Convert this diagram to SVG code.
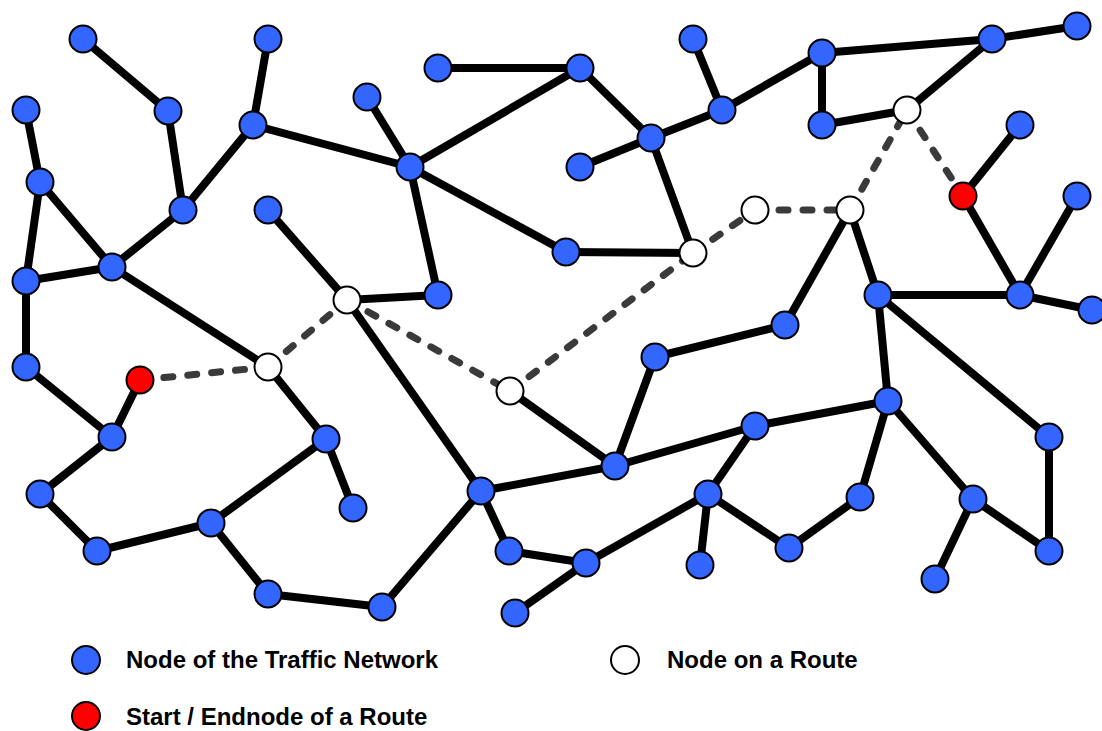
<svg xmlns="http://www.w3.org/2000/svg" width="1102" height="731" viewBox="0 0 1102 731">
  <style>
    .road { stroke: #000; stroke-width: 8; stroke-linecap: round; fill: none; }
    .route { stroke: #3a3a3a; stroke-width: 7; stroke-linecap: round; stroke-dasharray: 9 15; fill: none; }
    .node circle { stroke: #000; stroke-width: 2; }
    .net { fill: #3366ff; }
    .via { fill: #ffffff; }
    .end { fill: #ff0000; }
    .label { font-family: "Liberation Sans", Arial, sans-serif; font-weight: bold; font-size: 24px; fill: #000; }
  </style>

  <!-- road segments and route legs -->
  <g id="connectors">
    <g class="road">
      <line x1="83" y1="39" x2="168" y2="111"/>
      <line x1="168" y1="111" x2="183" y2="210"/>
      <line x1="268" y1="39" x2="253" y2="125"/>
      <line x1="253" y1="125" x2="183" y2="210"/>
      <line x1="253" y1="125" x2="410" y2="167"/>
      <line x1="183" y1="210" x2="112" y2="267"/>
      <line x1="26" y1="110" x2="40" y2="182"/>
      <line x1="40" y1="182" x2="26" y2="281"/>
      <line x1="40" y1="182" x2="112" y2="267"/>
      <line x1="26" y1="281" x2="112" y2="267"/>
      <line x1="26" y1="281" x2="26" y2="367"/>
      <line x1="26" y1="367" x2="112" y2="437"/>
      <line x1="112" y1="437" x2="140" y2="380"/>
      <line x1="112" y1="437" x2="40" y2="494"/>
      <line x1="40" y1="494" x2="97" y2="551"/>
      <line x1="97" y1="551" x2="211" y2="523"/>
      <line x1="211" y1="523" x2="326" y2="439"/>
      <line x1="211" y1="523" x2="268" y2="594"/>
      <line x1="268" y1="594" x2="382" y2="607"/>
      <line x1="382" y1="607" x2="481" y2="491"/>
      <line x1="112" y1="267" x2="268" y2="367"/>
      <line x1="268" y1="367" x2="326" y2="439"/>
      <line x1="326" y1="439" x2="353" y2="508"/>
      <line x1="268" y1="210" x2="347" y2="300"/>
      <line x1="347" y1="300" x2="438" y2="295"/>
      <line x1="347" y1="300" x2="481" y2="491"/>
      <line x1="367" y1="97" x2="410" y2="167"/>
      <line x1="410" y1="167" x2="580" y2="68"/>
      <line x1="410" y1="167" x2="438" y2="295"/>
      <line x1="410" y1="167" x2="566" y2="252"/>
      <line x1="438" y1="68" x2="580" y2="68"/>
      <line x1="580" y1="68" x2="651" y2="138"/>
      <line x1="566" y1="252" x2="693" y2="253"/>
      <line x1="580" y1="167" x2="651" y2="138"/>
      <line x1="651" y1="138" x2="722" y2="110"/>
      <line x1="651" y1="138" x2="693" y2="253"/>
      <line x1="693" y1="39" x2="722" y2="110"/>
      <line x1="722" y1="110" x2="822" y2="53"/>
      <line x1="822" y1="53" x2="822" y2="125"/>
      <line x1="822" y1="53" x2="992" y2="39"/>
      <line x1="992" y1="39" x2="1077" y2="26"/>
      <line x1="992" y1="39" x2="907" y2="110"/>
      <line x1="822" y1="125" x2="907" y2="110"/>
      <line x1="1020" y1="125" x2="963" y2="196"/>
      <line x1="963" y1="196" x2="1020" y2="295"/>
      <line x1="1077" y1="196" x2="1020" y2="295"/>
      <line x1="1020" y1="295" x2="1092" y2="310"/>
      <line x1="1020" y1="295" x2="878" y2="295"/>
      <line x1="850" y1="210" x2="878" y2="295"/>
      <line x1="850" y1="210" x2="785" y2="325"/>
      <line x1="785" y1="325" x2="655" y2="357"/>
      <line x1="655" y1="357" x2="615" y2="466"/>
      <line x1="510" y1="391" x2="615" y2="466"/>
      <line x1="615" y1="466" x2="481" y2="491"/>
      <line x1="615" y1="466" x2="755" y2="426"/>
      <line x1="755" y1="426" x2="888" y2="401"/>
      <line x1="878" y1="295" x2="888" y2="401"/>
      <line x1="878" y1="295" x2="1049" y2="437"/>
      <line x1="1049" y1="437" x2="1049" y2="551"/>
      <line x1="888" y1="401" x2="973" y2="499"/>
      <line x1="973" y1="499" x2="1049" y2="551"/>
      <line x1="973" y1="499" x2="935" y2="579"/>
      <line x1="888" y1="401" x2="860" y2="497"/>
      <line x1="860" y1="497" x2="789" y2="548"/>
      <line x1="789" y1="548" x2="708" y2="494"/>
      <line x1="755" y1="426" x2="708" y2="494"/>
      <line x1="708" y1="494" x2="700" y2="565"/>
      <line x1="708" y1="494" x2="586" y2="563"/>
      <line x1="586" y1="563" x2="509" y2="551"/>
      <line x1="509" y1="551" x2="481" y2="491"/>
      <line x1="586" y1="563" x2="515" y2="613"/>
    </g>
    <g class="route">
      <line x1="140" y1="380" x2="268" y2="367"/>
      <line x1="268" y1="367" x2="347" y2="300"/>
      <line x1="347" y1="300" x2="510" y2="391"/>
      <line x1="510" y1="391" x2="693" y2="253"/>
      <line x1="693" y1="253" x2="755" y2="210"/>
      <line x1="755" y1="210" x2="850" y2="210"/>
      <line x1="850" y1="210" x2="907" y2="110"/>
      <line x1="907" y1="110" x2="963" y2="196"/>
    </g>
  </g>

  <!-- nodes of the network -->
  <g id="n01" class="node"><circle class="net" cx="83" cy="39" r="13.5"/></g>
  <g id="n02" class="node"><circle class="net" cx="268" cy="39" r="13.5"/></g>
  <g id="n03" class="node"><circle class="net" cx="168" cy="111" r="13.5"/></g>
  <g id="n04" class="node"><circle class="net" cx="26" cy="110" r="13.5"/></g>
  <g id="n05" class="node"><circle class="net" cx="253" cy="125" r="13.5"/></g>
  <g id="n06" class="node"><circle class="net" cx="40" cy="182" r="13.5"/></g>
  <g id="n07" class="node"><circle class="net" cx="183" cy="210" r="13.5"/></g>
  <g id="n08" class="node"><circle class="net" cx="112" cy="267" r="13.5"/></g>
  <g id="n09" class="node"><circle class="net" cx="26" cy="281" r="13.5"/></g>
  <g id="n10" class="node"><circle class="net" cx="26" cy="367" r="13.5"/></g>
  <g id="n11" class="node"><circle class="end" cx="140" cy="380" r="13.5"/></g>
  <g id="n12" class="node"><circle class="net" cx="112" cy="437" r="13.5"/></g>
  <g id="n13" class="node"><circle class="net" cx="40" cy="494" r="13.5"/></g>
  <g id="n14" class="node"><circle class="net" cx="97" cy="551" r="13.5"/></g>
  <g id="n15" class="node"><circle class="net" cx="211" cy="523" r="13.5"/></g>
  <g id="n16" class="node"><circle class="net" cx="268" cy="594" r="13.5"/></g>
  <g id="n17" class="node"><circle class="net" cx="382" cy="607" r="13.5"/></g>
  <g id="n18" class="node"><circle class="net" cx="268" cy="210" r="13.5"/></g>
  <g id="n19" class="node"><circle class="via" cx="347" cy="300" r="13.5"/></g>
  <g id="n20" class="node"><circle class="net" cx="438" cy="295" r="13.5"/></g>
  <g id="n21" class="node"><circle class="via" cx="268" cy="367" r="13.5"/></g>
  <g id="n22" class="node"><circle class="net" cx="326" cy="439" r="13.5"/></g>
  <g id="n23" class="node"><circle class="net" cx="353" cy="508" r="13.5"/></g>
  <g id="n24" class="node"><circle class="net" cx="367" cy="97" r="13.5"/></g>
  <g id="n25" class="node"><circle class="net" cx="410" cy="167" r="13.5"/></g>
  <g id="n26" class="node"><circle class="net" cx="438" cy="68" r="13.5"/></g>
  <g id="n27" class="node"><circle class="net" cx="580" cy="68" r="13.5"/></g>
  <g id="n28" class="node"><circle class="net" cx="566" cy="252" r="13.5"/></g>
  <g id="n29" class="node"><circle class="net" cx="580" cy="167" r="13.5"/></g>
  <g id="n30" class="node"><circle class="net" cx="651" cy="138" r="13.5"/></g>
  <g id="n31" class="node"><circle class="net" cx="693" cy="39" r="13.5"/></g>
  <g id="n32" class="node"><circle class="net" cx="722" cy="110" r="13.5"/></g>
  <g id="n33" class="node"><circle class="via" cx="693" cy="253" r="13.5"/></g>
  <g id="n34" class="node"><circle class="via" cx="755" cy="210" r="13.5"/></g>
  <g id="n35" class="node"><circle class="via" cx="850" cy="210" r="13.5"/></g>
  <g id="n36" class="node"><circle class="net" cx="822" cy="53" r="13.5"/></g>
  <g id="n37" class="node"><circle class="net" cx="822" cy="125" r="13.5"/></g>
  <g id="n38" class="node"><circle class="via" cx="907" cy="110" r="13.5"/></g>
  <g id="n39" class="node"><circle class="net" cx="992" cy="39" r="13.5"/></g>
  <g id="n40" class="node"><circle class="net" cx="1077" cy="26" r="13.5"/></g>
  <g id="n41" class="node"><circle class="net" cx="1020" cy="125" r="13.5"/></g>
  <g id="n42" class="node"><circle class="end" cx="963" cy="196" r="13.5"/></g>
  <g id="n43" class="node"><circle class="net" cx="1077" cy="196" r="13.5"/></g>
  <g id="n44" class="node"><circle class="net" cx="1020" cy="295" r="13.5"/></g>
  <g id="n45" class="node"><circle class="net" cx="1092" cy="310" r="13.5"/></g>
  <g id="n46" class="node"><circle class="net" cx="878" cy="295" r="13.5"/></g>
  <g id="n47" class="node"><circle class="net" cx="785" cy="325" r="13.5"/></g>
  <g id="n48" class="node"><circle class="net" cx="655" cy="357" r="13.5"/></g>
  <g id="n49" class="node"><circle class="via" cx="510" cy="391" r="13.5"/></g>
  <g id="n50" class="node"><circle class="net" cx="615" cy="466" r="13.5"/></g>
  <g id="n51" class="node"><circle class="net" cx="481" cy="491" r="13.5"/></g>
  <g id="n52" class="node"><circle class="net" cx="509" cy="551" r="13.5"/></g>
  <g id="n53" class="node"><circle class="net" cx="586" cy="563" r="13.5"/></g>
  <g id="n54" class="node"><circle class="net" cx="515" cy="613" r="13.5"/></g>
  <g id="n55" class="node"><circle class="net" cx="755" cy="426" r="13.5"/></g>
  <g id="n56" class="node"><circle class="net" cx="888" cy="401" r="13.5"/></g>
  <g id="n57" class="node"><circle class="net" cx="708" cy="494" r="13.5"/></g>
  <g id="n58" class="node"><circle class="net" cx="700" cy="565" r="13.5"/></g>
  <g id="n59" class="node"><circle class="net" cx="789" cy="548" r="13.5"/></g>
  <g id="n60" class="node"><circle class="net" cx="860" cy="497" r="13.5"/></g>
  <g id="n61" class="node"><circle class="net" cx="1049" cy="437" r="13.5"/></g>
  <g id="n62" class="node"><circle class="net" cx="973" cy="499" r="13.5"/></g>
  <g id="n63" class="node"><circle class="net" cx="1049" cy="551" r="13.5"/></g>
  <g id="n64" class="node"><circle class="net" cx="935" cy="579" r="13.5"/></g>

  <!-- legend -->
  <g id="legend">
    <g class="node"><circle class="net" cx="86" cy="660" r="14"/></g>
    <text class="label" x="126" y="668">Node of the Traffic Network</text>
    <g class="node"><circle class="via" cx="625" cy="660" r="14"/></g>
    <text class="label" x="667" y="668">Node on a Route</text>
    <g class="node"><circle class="end" cx="86" cy="716" r="14"/></g>
    <text class="label" x="126" y="725">Start / Endnode of a Route</text>
  </g>
</svg>
